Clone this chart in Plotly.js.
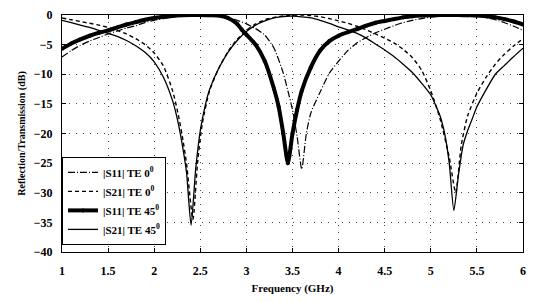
<!DOCTYPE html>
<html><head><meta charset="utf-8">
<script src="https://cdn.plot.ly/plotly-3.0.1.min.js"></script>
<style>html,body{margin:0;padding:0;background:#fff;}#chart{width:534px;height:301px;}</style>
</head><body><div id="chart"></div>
<script>
// |S11| TE 0°
const fS11TE0 = [1.0,1.1,1.2,1.3,1.4,1.5,1.6,1.7,1.8,1.9,2.0,2.1,2.2,2.3,2.4,2.5,2.6,2.7,2.8,2.9,3.0,3.1,3.2,3.3,3.4,3.45,3.5,3.55,3.6,3.65,3.7,3.8,3.9,4.0,4.1,4.2,4.3,4.4,4.5,4.6,4.7,4.8,4.9,5.0,5.1,5.2,5.3,5.4,5.5,5.6,5.7,5.8,5.9,6.0];
const s11TE0 = [-7.1,-6.0,-5.1,-4.4,-3.8,-3.2,-2.7,-2.2,-1.8,-1.3,-0.9,-0.6,-0.3,-0.15,-0.05,0,-0.05,-0.2,-0.5,-0.9,-1.5,-2.3,-3.4,-5.6,-9.8,-12.8,-16,-20.5,-26,-20,-16.5,-13.0,-9.8,-7.8,-6.0,-4.7,-3.8,-3.0,-2.4,-1.8,-1.3,-0.9,-0.6,-0.35,-0.2,-0.05,0,-0.05,-0.2,-0.45,-0.8,-1.3,-1.9,-2.6];
// |S21| TE 0°
const fS21TE0 = [1.0,1.1,1.2,1.3,1.4,1.5,1.6,1.7,1.8,1.9,2.0,2.1,2.2,2.25,2.3,2.35,2.42,2.47,2.52,2.6,2.7,2.8,2.9,3.0,3.1,3.2,3.3,3.4,3.5,3.6,3.7,3.8,3.9,4.0,4.1,4.2,4.3,4.4,4.5,4.6,4.7,4.8,4.9,5.0,5.1,5.2,5.27,5.33,5.4,5.5,5.6,5.7,5.8,5.9,6.0];
const s21TE0 = [-0.5,-0.8,-1.1,-1.4,-1.7,-2.1,-2.6,-3.2,-4.0,-5.0,-6.4,-8.6,-12.8,-16,-20,-25,-34.5,-25,-18.5,-12.8,-9,-6.2,-4.1,-2.6,-1.5,-0.8,-0.4,-0.15,-0.05,0,-0.1,-0.3,-0.6,-1.0,-1.4,-1.9,-2.5,-3.2,-3.9,-4.7,-5.8,-7.2,-9.3,-12.8,-17.5,-24,-30,-22,-17,-13.2,-10.5,-8.3,-6.6,-5.2,-4.0];
// |S11| TE 45°
const fS11TE45 = [1.0,1.1,1.2,1.3,1.4,1.5,1.6,1.7,1.8,1.9,2.0,2.1,2.2,2.3,2.4,2.5,2.6,2.7,2.8,2.9,2.95,3.0,3.1,3.2,3.3,3.35,3.4,3.45,3.5,3.55,3.6,3.7,3.8,3.9,4.0,4.1,4.2,4.3,4.4,4.5,4.6,4.7,4.8,4.9,5.0,5.1,5.2,5.3,5.4,5.5,5.6,5.7,5.8,5.9,6.0];
const s11TE45 = [-5.7,-4.8,-4.1,-3.5,-3.0,-2.6,-2.1,-1.6,-1.2,-0.8,-0.5,-0.3,-0.15,-0.05,0,-0.02,-0.05,-0.1,-0.5,-1.5,-2.5,-3.3,-5.0,-7.8,-12.5,-15.5,-20,-25,-20,-16,-12.8,-8.8,-6.0,-4.4,-3.5,-2.9,-2.4,-1.8,-1.3,-1.0,-0.7,-0.4,-0.2,-0.1,-0.05,0,0,0,-0.05,-0.1,-0.2,-0.4,-0.7,-1.1,-1.6];
// |S21| TE 45°
const fS21TE45 = [1.0,1.1,1.2,1.3,1.4,1.5,1.6,1.7,1.8,1.9,2.0,2.1,2.2,2.25,2.3,2.35,2.4,2.45,2.5,2.55,2.6,2.7,2.8,2.9,3.0,3.1,3.2,3.3,3.4,3.5,3.6,3.7,3.8,3.9,4.0,4.1,4.2,4.3,4.4,4.5,4.6,4.7,4.8,4.9,5.0,5.1,5.15,5.2,5.25,5.3,5.35,5.4,5.45,5.5,5.6,5.7,5.8,5.9,6.0];
const s21TE45 = [-0.9,-1.3,-1.7,-2.1,-2.6,-3.1,-3.6,-4.3,-5.2,-6.3,-7.9,-10.5,-14.5,-17.5,-21.5,-26.5,-35.5,-26,-19.5,-15.5,-12.6,-9,-6.3,-4.3,-2.8,-1.7,-1.0,-0.5,-0.25,-0.2,-0.3,-0.5,-0.9,-1.4,-2.0,-2.5,-3.1,-3.9,-4.9,-5.9,-7.0,-8.3,-9.7,-11.5,-13.5,-17,-20,-25,-33,-27,-22,-19.5,-17.5,-15.5,-12.6,-10,-8.5,-7,-5.6];

const sup0 = '<sup><span style="color:#000">0</span></sup>';
const names = ['|S11| TE 0' + sup0, '|S21| TE 0' + sup0, '|S11| TE 45' + sup0, '|S21| TE 45' + sup0];

const traces = [
  {x:fS11TE0, y:s11TE0, name:names[0], mode:'lines', line:{color:'#000', width:1.2, dash:'7px,2px,1px,2px', shape:'spline', smoothing:0.6}},
  {x:fS21TE0, y:s21TE0, name:names[1], mode:'lines', line:{color:'#000', width:1.4, dash:'4px,3px', shape:'spline', smoothing:0.6}},
  {x:fS11TE45, y:s11TE45, name:names[2], mode:'lines+markers', line:{color:'#000', width:4, shape:'spline', smoothing:0.6}, marker:{color:'#000', size:4}},
  {x:fS21TE45, y:s21TE45, name:names[3], mode:'lines', line:{color:'#000', width:1.3, shape:'spline', smoothing:0.6}}
];

const fontFam = '"Liberation Serif", "DejaVu Serif", serif';
const layout = {
  width:534, height:301,
  margin:{l:62, r:11, t:15, b:49},
  paper_bgcolor:'#fff', plot_bgcolor:'#fff',
  font:{family:fontFam, color:'#000', size:12},
  showlegend:true,
  legend:{x:0, y:0.03, xanchor:'left', yanchor:'bottom', bgcolor:'#fff', bordercolor:'#000', borderwidth:1,
          font:{family:fontFam, size:11, color:'#000', weight:700}, tracegroupgap:0, itemwidth:30},
  xaxis:{range:[1,6], dtick:0.5, tick0:1, showline:true, linecolor:'#000', linewidth:1, mirror:'ticks',
         ticks:'inside', ticklen:4, tickcolor:'#000', showgrid:true, gridcolor:'#444', gridwidth:1, griddash:'1px,6px',
         zeroline:false, ticklabelstandoff:8, tickfont:{family:fontFam, size:12, color:'#000', weight:700},
         title:{text:'Frequency (GHz)', font:{family:fontFam, size:11, color:'#000', weight:700}, standoff:6}},
  yaxis:{range:[-40,0], dtick:5, showline:true, linecolor:'#000', linewidth:1, mirror:'ticks',
         ticks:'inside', ticklen:4, tickcolor:'#000', showgrid:true, gridcolor:'#444', gridwidth:1, griddash:'1px,6px',
         zeroline:false, ticklabelstandoff:6, tickfont:{family:fontFam, size:12, color:'#000', weight:700},
         title:{text:'Reflection/Transmission (dB)', font:{family:fontFam, size:10, color:'#000', weight:700}, standoff:6}}
};
Plotly.newPlot('chart', traces, layout, {displayModeBar:false, staticPlot:true});
</script>
</body></html>
